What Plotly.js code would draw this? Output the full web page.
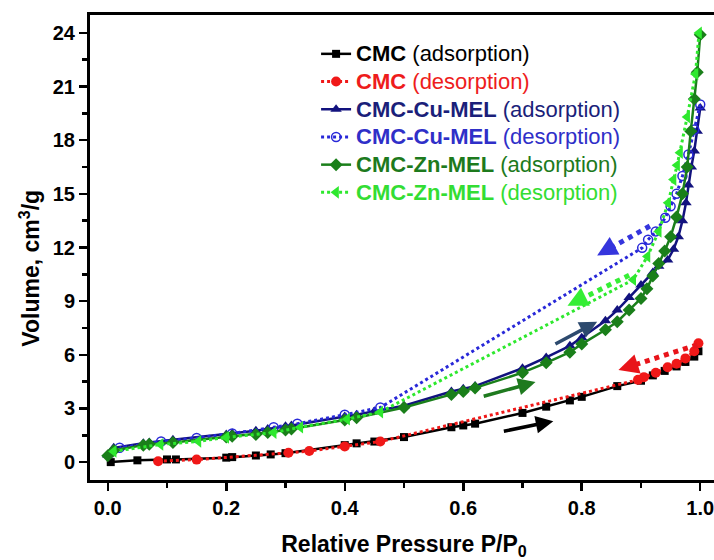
<!DOCTYPE html>
<html>
<head>
<meta charset="utf-8">
<script src="https://cdn.plot.ly/plotly-3.0.1.min.js"></script>
<style>
html,body{margin:0;padding:0;overflow:hidden;background:#fff;}
#chart{width:732px;height:560px;}
</style>
</head>
<body>
<div id="chart"></div>
<script>
// ---- data ----
const cmcAdsX = [0.005, 0.05, 0.10, 0.115, 0.20, 0.21, 0.25, 0.275, 0.30, 0.40, 0.42, 0.45, 0.50, 0.58, 0.60, 0.62, 0.70, 0.74, 0.78, 0.80, 0.86, 0.90, 0.92, 0.94, 0.96, 0.975, 0.99, 0.997];
const cmcAdsY = [0.0, 0.1, 0.15, 0.15, 0.25, 0.28, 0.37, 0.43, 0.5, 0.95, 1.05, 1.15, 1.4, 1.95, 2.05, 2.15, 2.75, 3.1, 3.45, 3.65, 4.25, 4.55, 4.85, 5.1, 5.35, 5.6, 5.9, 6.2];

const cmcDesX = [0.997, 0.99, 0.975, 0.96, 0.945, 0.925, 0.905, 0.895, 0.46, 0.40, 0.34, 0.305, 0.15, 0.085];
const cmcDesY = [6.65, 6.2, 5.8, 5.5, 5.3, 5.0, 4.75, 4.6, 1.15, 0.88, 0.62, 0.52, 0.14, 0.05];

const cuAdsX = [0.0, 0.01, 0.06, 0.07, 0.11, 0.20, 0.21, 0.25, 0.27, 0.30, 0.31, 0.40, 0.42, 0.45, 0.50, 0.58, 0.60, 0.62, 0.70, 0.74, 0.78, 0.80, 0.84, 0.86, 0.88, 0.90, 0.92, 0.93, 0.945, 0.955, 0.963, 0.97, 0.976, 0.98, 0.985, 0.99, 0.995, 1.0];
const cuAdsY = [0.4, 0.8, 1.05, 1.1, 1.25, 1.55, 1.6, 1.75, 1.85, 2.0, 2.05, 2.55, 2.65, 2.85, 3.15, 3.95, 4.1, 4.25, 5.25, 5.85, 6.5, 6.95, 7.9, 8.5, 9.2, 9.9, 10.6, 10.95, 11.3, 11.9, 12.6, 13.5, 14.5, 15.5, 16.5, 17.4, 18.5, 19.8];

const cuDesX = [1.0, 0.99, 0.98, 0.97, 0.96, 0.95, 0.941, 0.925, 0.912, 0.902, 0.46, 0.40, 0.32, 0.28, 0.21, 0.15, 0.09, 0.02];
const cuDesY = [20.0, 18.6, 17.2, 16.0, 15.0, 14.3, 13.66, 12.9, 12.43, 11.98, 3.05, 2.65, 2.15, 1.95, 1.6, 1.35, 1.15, 0.8];

const znAdsX = [0.0, 0.01, 0.06, 0.07, 0.11, 0.20, 0.21, 0.25, 0.27, 0.30, 0.31, 0.40, 0.42, 0.50, 0.58, 0.60, 0.62, 0.70, 0.74, 0.78, 0.80, 0.84, 0.86, 0.88, 0.90, 0.91, 0.92, 0.93, 0.94, 0.95, 0.96, 0.97, 0.978, 0.984, 0.99, 0.995, 1.0];
const znAdsY = [0.35, 0.65, 0.95, 1.0, 1.1, 1.4, 1.45, 1.55, 1.65, 1.8, 1.85, 2.35, 2.48, 3.05, 3.78, 3.95, 4.15, 5.0, 5.55, 6.15, 6.6, 7.4, 7.85, 8.5, 9.15, 9.7, 10.4, 11.1, 11.8, 12.6, 13.7, 15.0, 16.5, 18.5, 20.3, 21.8, 23.9];

const znDesX = [0.998, 0.992, 0.978, 0.966, 0.961, 0.955, 0.946, 0.93, 0.911, 0.887, 0.46, 0.404, 0.325, 0.28, 0.20, 0.153, 0.089, 0.01];
const znDesY = [24.0, 21.7, 19.3, 17.3, 16.6, 15.8, 14.5, 12.9, 11.5, 10.2, 2.8, 2.4, 1.95, 1.65, 1.38, 1.16, 0.99, 0.6];

const seriesNames = [
  '<span style="font-size:22px;color:#000000"><b>CMC</b> (adsorption)</span>',
  '<span style="font-size:22px;color:#ee1c1c"><b>CMC</b> (desorption)</span>',
  '<span style="font-size:22px;color:#1b1f7a"><b>CMC-Cu-MEL</b> (adsorption)</span>',
  '<span style="font-size:22px;color:#2f2fc8"><b>CMC-Cu-MEL</b> (desorption)</span>',
  '<span style="font-size:22px;color:#1d7a1d"><b>CMC-Zn-MEL</b> (adsorption)</span>',
  '<span style="font-size:22px;color:#33dd33"><b>CMC-Zn-MEL</b> (desorption)</span>'
];
const seriesColors = ['#000000', '#f01818', '#12127e', '#2828d8', '#1a7f1a', '#2ee82e'];
const seriesDash = ['solid', 'dot', 'solid', 'dot', 'solid', 'dot'];
const seriesSymbols = ['square', 'circle', 'triangle-up', 'circle-open', 'diamond', 'triangle-left'];

const xTickVals = [0.0, 0.2, 0.4, 0.6, 0.8, 1.0];
const xTickText = ['0.0', '0.2', '0.4', '0.6', '0.8', '1.0'];
const yTickVals = [0, 3, 6, 9, 12, 15, 18, 21, 24];
const xTitle = 'Relative Pressure P/P<sub>0</sub>';
const yTitle = 'Volume, cm<sup>3</sup>/g';

// arrows: tail (start) -> head (end)
const arrowStartX = [0.666, 0.632, 0.753, 0.995, 0.915, 0.880];
const arrowStartY = [1.71, 3.66, 6.56, 6.56, 13.2, 10.45];
const arrowEndX = [0.752, 0.722, 0.826, 0.862, 0.826, 0.776];
const arrowEndY = [2.29, 4.48, 7.85, 5.15, 11.55, 8.75];
const arrowColors = ['#000000', '#1f7a1f', '#2d4a6e', '#e8141a', '#3535dd', '#35ee35'];
const arrowDotted = [false, false, false, true, true, true];

// ---- build ----
const xs = [cmcAdsX, cmcDesX, cuAdsX, cuDesX, znAdsX, znDesX];
const ys = [cmcAdsY, cmcDesY, cuAdsY, cuDesY, znAdsY, znDesY];
const sizes = [8, 10, 10, 9, 10, 11];

const traces = xs.map((x, i) => ({
  type: 'scatter', mode: 'lines+markers',
  x: x, y: ys[i], name: seriesNames[i],
  line: {color: seriesColors[i], width: seriesDash[i] === 'dot' ? 3 : 2.5, dash: seriesDash[i]},
  marker: {symbol: seriesSymbols[i], size: sizes[i], color: seriesColors[i],
           line: {color: seriesColors[i], width: seriesSymbols[i] === 'circle-open' ? 1.5 : 0}}
}));

const shapes = [];
const annotations = [];
for (let i = 0; i < arrowStartX.length; i++) {
  const dx = arrowEndX[i] - arrowStartX[i];
  const dy = arrowEndY[i] - arrowStartY[i];
  if (arrowDotted[i]) {
    shapes.push({type: 'line', xref: 'x', yref: 'y',
      x0: arrowStartX[i], y0: arrowStartY[i],
      x1: arrowEndX[i] - 0.14 * dx, y1: arrowEndY[i] - 0.14 * dy,
      line: {color: arrowColors[i], width: 5, dash: 'dot'}});
    annotations.push({x: arrowEndX[i], y: arrowEndY[i], xref: 'x', yref: 'y',
      ax: arrowEndX[i] - 0.17 * dx, ay: arrowEndY[i] - 0.17 * dy, axref: 'x', ayref: 'y',
      text: '', showarrow: true, arrowhead: 2, arrowsize: 1.0, arrowwidth: 4, arrowcolor: arrowColors[i]});
  } else {
    annotations.push({x: arrowEndX[i], y: arrowEndY[i], xref: 'x', yref: 'y',
      ax: arrowStartX[i], ay: arrowStartY[i], axref: 'x', ayref: 'y',
      text: '', showarrow: true, arrowhead: 2, arrowsize: 1.0, arrowwidth: 3.5, arrowcolor: arrowColors[i]});
  }
}

const fontFam = 'Arial, "Liberation Sans", sans-serif';
annotations.push({xref: 'paper', yref: 'paper', x: -0.096, y: 0.456, xanchor: 'center', yanchor: 'middle',
  textangle: -90, showarrow: false, text: yTitle,
  font: {family: fontFam, size: 23, weight: 'bold', color: '#000'}});

const layout = {
  width: 732, height: 560,
  margin: {l: 90, r: 14, t: 15, b: 80},
  paper_bgcolor: '#ffffff', plot_bgcolor: '#ffffff',
  font: {family: fontFam, color: '#000'},
  showlegend: true,
  legend: {x: 0.36, y: 0.957, xanchor: 'left', yanchor: 'top', bgcolor: 'rgba(0,0,0,0)',
           font: {family: fontFam, size: 19, color: '#000'}},
  xaxis: {range: [-0.03, 1.03], showgrid: false, zeroline: false,
          showline: true, linecolor: '#000', linewidth: 3, mirror: true,
          ticks: 'outside', ticklen: 8, tickwidth: 2.5, tickcolor: '#000',
          tickvals: xTickVals, ticktext: xTickText,
          minor: {ticks: 'outside', ticklen: 5, tickwidth: 2.5, tickcolor: '#000', dtick: 0.1, showgrid: false},
          tickfont: {family: fontFam, size: 20, weight: 'bold'},
          title: {text: xTitle, standoff: 20,
                  font: {family: fontFam, size: 23, weight: 'bold'}}},
  yaxis: {range: [-1, 25], showgrid: false, zeroline: false,
          showline: true, linecolor: '#000', linewidth: 3, mirror: false,
          ticks: 'outside', ticklen: 8, tickwidth: 2.5, tickcolor: '#000',
          tickvals: yTickVals,
          minor: {ticks: 'outside', ticklen: 5, tickwidth: 2.5, tickcolor: '#000', dtick: 1.5, tick0: 0, showgrid: false},
          tickfont: {family: fontFam, size: 20, weight: 'bold'}},
  shapes: shapes,
  annotations: annotations
};

Plotly.newPlot('chart', traces, layout, {displayModeBar: false, staticPlot: true});
</script>
</body>
</html>
